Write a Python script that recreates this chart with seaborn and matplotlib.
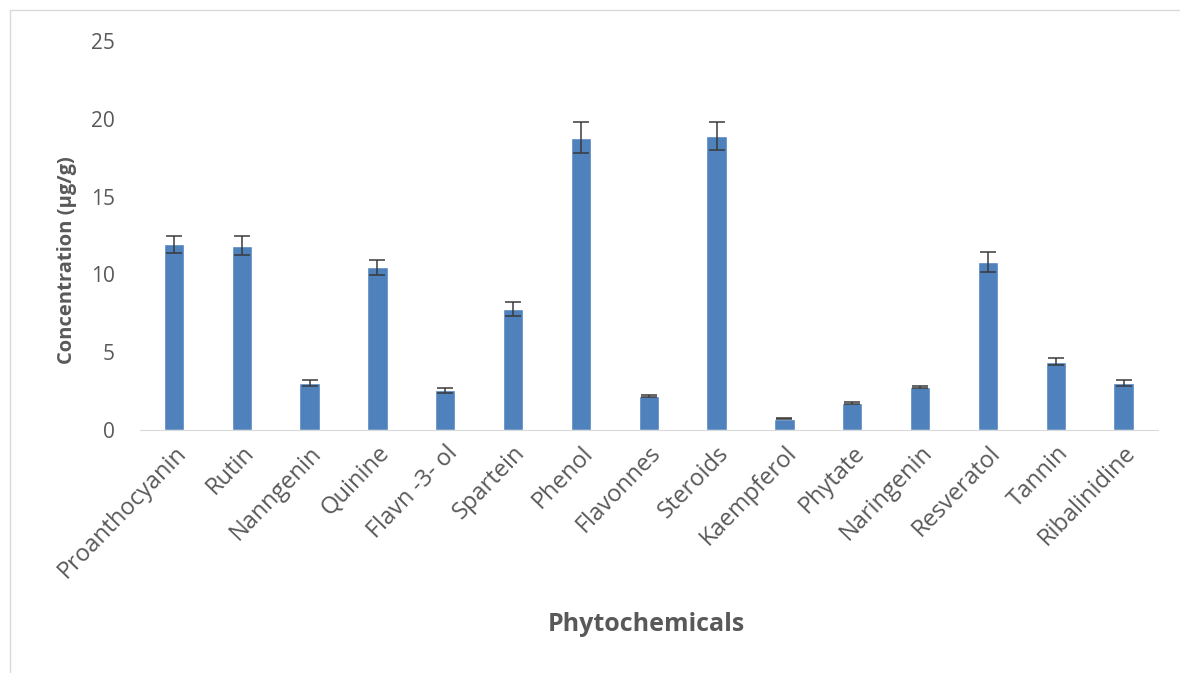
import matplotlib
matplotlib.use('Agg')
import matplotlib.pyplot as plt
import pandas as pd
import seaborn as sns
from matplotlib.patches import Rectangle

# values
compounds = ["Proanthocyanin", "Rutin", "Nanngenin", "Quinine", "Flavn -3- ol",
             "Spartein", "Phenol", "Flavonnes", "Steroids", "Kaempferol",
             "Phytate", "Naringenin", "Resveratol", "Tannin", "Ribalinidine"]
concentration = [11.95, 11.85, 3.0, 10.45, 2.55, 7.8, 18.8, 2.18, 18.9, 0.73,
                 1.75, 2.78, 10.8, 4.4, 3.0]
std_err = [0.55, 0.6, 0.2, 0.5, 0.18, 0.45, 1.0, 0.08, 0.9, 0.03,
           0.07, 0.07, 0.65, 0.2, 0.2]
y_ticks = [0, 5, 10, 15, 20, 25]

df = pd.DataFrame({"compound": compounds, "conc": concentration})

sns.set_style("white")
plt.rcParams['font.family'] = ['Open Sans', 'DejaVu Sans']

fig = plt.figure(figsize=(11.8, 6.73), dpi=100)
ax = fig.add_axes([0.1186, 0.361, 0.8624, 0.578])

sns.barplot(data=df, x="compound", y="conc", color="#4F81BD", width=0.3,
            errorbar=None, saturation=1, ax=ax)
ax.errorbar(x=range(len(compounds)), y=concentration, yerr=std_err, fmt="none",
            ecolor="#3a3a3a", elinewidth=1.1, capsize=6, capthick=1.1)

ax.set_ylim(0, 25)
ax.set_yticks(y_ticks)
ax.set_xlim(-0.5, len(compounds) - 0.5)
ax.tick_params(axis="both", length=0, colors="#595959")
ax.tick_params(axis="y", pad=18, labelsize=15)
ax.tick_params(axis="x", pad=8, labelsize=17)
plt.setp(ax.get_xticklabels(), rotation=46, ha="right", rotation_mode="anchor")

for side in ["top", "right", "left"]:
    ax.spines[side].set_visible(False)
ax.spines["bottom"].set_color("#d9d9d9")

ax.set_ylabel("Concentration (µg/g)", fontsize=14.5, fontweight="bold",
              color="#595959")
ax.yaxis.set_label_coords(-0.062, 0.437)
ax.set_xlabel("Phytochemicals", fontsize=18, fontweight="bold",
              color="#595959")
ax.xaxis.set_label_coords(0.498, -0.468)

# light frame round the chart
fig.patches.append(Rectangle((10 / 1180, -0.1), 1.2, 1 - 10 / 673 + 0.1,
                             transform=fig.transFigure, fill=False,
                             edgecolor="#d9d9d9", linewidth=1))

fig.savefig("out.png", dpi=100)
